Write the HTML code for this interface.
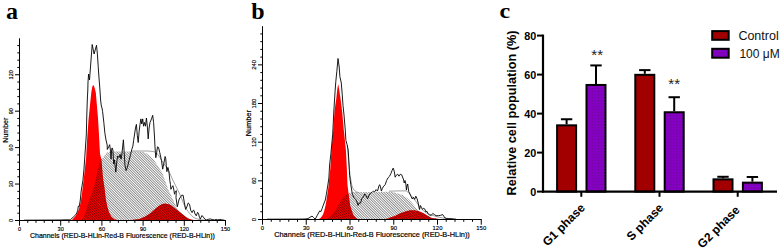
<!DOCTYPE html>
<html><head><meta charset="utf-8"><style>
html,body{margin:0;padding:0;background:#fff;width:784px;height:248px;overflow:hidden}
svg{display:block;font-family:"Liberation Sans",sans-serif}
</style></head><body>
<svg width="784" height="248" viewBox="0 0 784 248">
<defs>
<pattern id="hatch" patternUnits="userSpaceOnUse" width="1.8" height="1.8" patternTransform="rotate(-45)">
<rect x="0" y="0" width="0.9" height="1.8" fill="rgba(0,0,0,0.46)"/>
</pattern>
<pattern id="rhatch" patternUnits="userSpaceOnUse" width="1.8" height="1.8" patternTransform="rotate(-45)">
<rect x="0" y="0" width="0.9" height="1.8" fill="rgba(40,0,0,0.55)"/>
</pattern>
<pattern id="dots" patternUnits="userSpaceOnUse" width="3" height="3">
<rect x="0" y="0" width="3" height="3" fill="#8600c4"/>
<rect x="1" y="1" width="1.3" height="1.3" fill="#6c0a9c"/>
</pattern>
</defs>
<rect width="784" height="248" fill="#fff"/>

<text x="6" y="18.5" font-family="'Liberation Serif', serif" font-weight="bold" font-size="24">a</text>
<text x="251.3" y="18.8" font-family="'Liberation Serif', serif" font-weight="bold" font-size="24">b</text>
<text x="0" y="0" transform="translate(499.6,18.4) scale(1.12,1)" font-family="'Liberation Serif', serif" font-weight="bold" font-size="21.5">c</text>

<clipPath id="clip19"><polygon points="71.7,220.2 73.5,218.2 75.3,216.2 77.3,213.1 78.4,210.6 79.3,208.1 80.3,204.0 81.0,200.0 81.8,195.0 83.0,185.0 84.2,175.0 85.0,168.0 86.1,158.0 87.1,140.0 88.5,120.0 90.3,102.0 91.3,92.6 92.1,87.5 93.1,84.7 94.2,86.5 95.8,92.6 96.6,102.0 98.0,118.0 99.0,135.0 100.0,153.7 101.5,160.0 102.9,177.0 104.7,189.2 105.8,199.3 107.3,206.5 109.1,212.6 111.5,216.8 114.5,219.2 118.1,220.2 121.0,220.2"/></clipPath>
<polygon points="81.5,220.2 83.7,217.1 85.6,211.9 87.5,205.5 90.1,197.7 93.0,190.0 94.9,184.2 97.3,172.0 100.4,160.0 102.0,158.5 103.2,157.3 105.0,154.5 106.5,152.8 109.7,151.6 120.0,151.5 135.0,151.4 143.2,152.1 146.5,153.5 149.2,155.7 151.8,158.0 154.0,160.6 157.7,165.4 159.8,169.0 162.3,172.8 164.7,179.5 167.1,186.2 168.9,191.0 171.5,196.5 173.4,200.5 175.3,204.5 177.5,209.0 180.5,213.5 184.7,219.5 188.0,220.2" fill="url(#hatch)"/>
<polygon points="71.7,220.2 73.5,218.2 75.3,216.2 77.3,213.1 78.4,210.6 79.3,208.1 80.3,204.0 81.0,200.0 81.8,195.0 83.0,185.0 84.2,175.0 85.0,168.0 86.1,158.0 87.1,140.0 88.5,120.0 90.3,102.0 91.3,92.6 92.1,87.5 93.1,84.7 94.2,86.5 95.8,92.6 96.6,102.0 98.0,118.0 99.0,135.0 100.0,153.7 101.5,160.0 102.9,177.0 104.7,189.2 105.8,199.3 107.3,206.5 109.1,212.6 111.5,216.8 114.5,219.2 118.1,220.2 121.0,220.2" fill="#ff0000"/>
<polygon points="81.5,220.2 83.7,217.1 85.6,211.9 87.5,205.5 90.1,197.7 93.0,190.0 94.9,184.2 97.3,172.0 100.4,160.0 102.0,158.5 103.2,157.3 105.0,154.5 106.5,152.8 109.7,151.6 120.0,151.5 135.0,151.4 143.2,152.1 146.5,153.5 149.2,155.7 151.8,158.0 154.0,160.6 157.7,165.4 159.8,169.0 162.3,172.8 164.7,179.5 167.1,186.2 168.9,191.0 171.5,196.5 173.4,200.5 175.3,204.5 177.5,209.0 180.5,213.5 184.7,219.5 188.0,220.2" fill="url(#rhatch)" clip-path="url(#clip19)"/>
<polygon points="130.0,220.2 135.0,219.6 139.4,219.0 145.2,216.5 150.0,213.5 154.0,210.0 158.0,206.5 161.6,204.2 165.0,203.6 168.9,204.2 171.5,205.5 174.0,207.4 176.6,209.4 180.5,212.6 184.4,215.8 188.2,218.4 192.1,219.8 196.0,220.2" fill="#f00000"/>
<polygon points="130.0,220.2 135.0,219.6 139.4,219.0 145.2,216.5 150.0,213.5 154.0,210.0 158.0,206.5 161.6,204.2 165.0,203.6 168.9,204.2 171.5,205.5 174.0,207.4 176.6,209.4 180.5,212.6 184.4,215.8 188.2,218.4 192.1,219.8 196.0,220.2" fill="url(#rhatch)"/>
<polyline points="131.0,151.0 147.0,151.0 150.0,151.2 153.6,151.6 156.0,152.5 157.9,154.3 159.7,157.2 161.5,160.1 163.6,163.4 165.9,166.5 168.3,170.5 170.7,175.2 173.1,180.7 175.6,185.6 178.0,190.4 179.2,193.0 181.8,199.0 183.5,203.5 185.6,207.8 187.9,211.2 189.5,213.3 191.5,215.5 193.4,217.2 196.0,218.6 199.0,219.4 202.1,219.9 206.0,220.2" fill="none" stroke="#777" stroke-width="0.7"/>
<polyline points="24.0,220.2 60.0,220.0 66.0,219.8 70.2,219.9 73.2,217.2 75.8,214.6 76.8,213.0 77.8,210.1 78.3,206.1 79.2,206.8 80.3,200.0 81.2,191.0 82.9,180.5 83.9,170.0 84.6,160.0 85.6,145.0 86.3,135.0 86.8,115.0 87.3,100.0 87.8,90.0 88.0,82.0 88.6,74.0 89.5,80.0 92.2,44.5 94.1,54.0 96.5,45.3 97.4,54.1 98.2,66.2 99.0,78.0 99.8,88.0 100.6,100.0 101.2,105.0 102.2,109.0 102.6,111.5 103.8,122.2 104.9,133.3 106.0,140.0 107.2,145.0 107.3,149.5 108.1,148.0 108.9,146.3 109.7,144.7 110.5,151.1 111.0,159.2 111.6,150.0 112.1,147.9 112.9,150.0 113.7,164.0 114.5,160.0 115.3,167.3 115.8,172.1 116.9,160.8 117.7,156.0 119.0,157.6 120.2,154.4 121.0,159.2 121.8,155.0 123.4,139.8 124.2,152.7 125.0,165.6 126.1,170.5 127.4,167.3 129.0,160.8 130.6,154.4 131.7,149.7 132.9,146.0 133.6,140.7 135.5,128.0 136.4,124.4 137.3,135.3 138.2,142.5 139.1,131.6 140.0,124.4 140.9,118.9 141.8,124.0 142.7,118.9 143.6,126.2 144.5,122.5 145.5,126.2 146.4,118.0 147.3,126.0 148.2,138.9 149.1,128.0 150.0,122.5 151.5,118.9 152.7,115.3 153.6,122.5 154.5,137.0 155.0,147.0 155.4,152.3 155.8,157.7 156.7,152.3 157.5,146.8 158.5,147.4 159.7,152.3 161.5,160.7 162.7,169.2 163.9,163.1 165.1,156.5 165.7,158.3 166.3,165.6 166.9,171.6 167.9,167.4 168.7,170.4 169.3,175.0 169.8,180.5 170.5,184.5 170.9,189.3 172.1,186.9 172.9,185.7 173.9,190.0 174.5,194.2 175.1,192.4 176.3,190.6 176.0,197.7 177.3,206.8 178.2,203.0 179.2,199.0 180.5,197.1 181.8,195.2 183.1,195.2 184.4,202.9 185.6,209.4 186.9,206.8 188.2,202.9 189.5,204.2 190.8,210.6 192.1,212.6 193.3,210.2 194.1,210.6 195.0,213.9 196.3,215.8 197.6,212.3 198.5,213.5 199.5,217.5 200.3,219.1 201.2,217.0 202.0,215.5 203.3,217.1 204.9,219.1 206.5,219.9 208.1,219.4 210.1,218.9 212.1,219.5 214.5,219.9 216.2,219.4 217.8,219.9 219.8,219.4 221.8,219.8 224.5,220.2" fill="none" stroke="#000" stroke-width="0.9" stroke-linejoin="round"/>
<line x1="19.5" y1="38.3" x2="19.5" y2="221.0" stroke="#000" stroke-width="1"/>
<line x1="19.0" y1="220.5" x2="226.0" y2="220.5" stroke="#000" stroke-width="1"/>
<line x1="15.00" y1="220.50" x2="19.5" y2="220.50" stroke="#000" stroke-width="1"/>
<text x="0" y="0" transform="translate(11.30,220.50) rotate(-90)" text-anchor="middle" dominant-baseline="central" font-size="5.6" stroke="#000" stroke-width="0.15">0</text>
<line x1="17.30" y1="213.21" x2="19.5" y2="213.21" stroke="#000" stroke-width="1"/>
<line x1="17.30" y1="205.92" x2="19.5" y2="205.92" stroke="#000" stroke-width="1"/>
<line x1="17.30" y1="198.64" x2="19.5" y2="198.64" stroke="#000" stroke-width="1"/>
<line x1="17.30" y1="191.35" x2="19.5" y2="191.35" stroke="#000" stroke-width="1"/>
<line x1="15.00" y1="184.06" x2="19.5" y2="184.06" stroke="#000" stroke-width="1"/>
<text x="0" y="0" transform="translate(11.30,184.06) rotate(-90)" text-anchor="middle" dominant-baseline="central" font-size="5.6" stroke="#000" stroke-width="0.15">30</text>
<line x1="17.30" y1="176.77" x2="19.5" y2="176.77" stroke="#000" stroke-width="1"/>
<line x1="17.30" y1="169.48" x2="19.5" y2="169.48" stroke="#000" stroke-width="1"/>
<line x1="17.30" y1="162.20" x2="19.5" y2="162.20" stroke="#000" stroke-width="1"/>
<line x1="17.30" y1="154.91" x2="19.5" y2="154.91" stroke="#000" stroke-width="1"/>
<line x1="15.00" y1="147.62" x2="19.5" y2="147.62" stroke="#000" stroke-width="1"/>
<text x="0" y="0" transform="translate(11.30,147.62) rotate(-90)" text-anchor="middle" dominant-baseline="central" font-size="5.6" stroke="#000" stroke-width="0.15">60</text>
<line x1="17.30" y1="140.33" x2="19.5" y2="140.33" stroke="#000" stroke-width="1"/>
<line x1="17.30" y1="133.04" x2="19.5" y2="133.04" stroke="#000" stroke-width="1"/>
<line x1="17.30" y1="125.76" x2="19.5" y2="125.76" stroke="#000" stroke-width="1"/>
<line x1="17.30" y1="118.47" x2="19.5" y2="118.47" stroke="#000" stroke-width="1"/>
<line x1="15.00" y1="111.18" x2="19.5" y2="111.18" stroke="#000" stroke-width="1"/>
<text x="0" y="0" transform="translate(11.30,111.18) rotate(-90)" text-anchor="middle" dominant-baseline="central" font-size="5.6" stroke="#000" stroke-width="0.15">90</text>
<line x1="17.30" y1="103.89" x2="19.5" y2="103.89" stroke="#000" stroke-width="1"/>
<line x1="17.30" y1="96.60" x2="19.5" y2="96.60" stroke="#000" stroke-width="1"/>
<line x1="17.30" y1="89.32" x2="19.5" y2="89.32" stroke="#000" stroke-width="1"/>
<line x1="17.30" y1="82.03" x2="19.5" y2="82.03" stroke="#000" stroke-width="1"/>
<line x1="15.00" y1="74.74" x2="19.5" y2="74.74" stroke="#000" stroke-width="1"/>
<text x="0" y="0" transform="translate(11.30,74.74) rotate(-90)" text-anchor="middle" dominant-baseline="central" font-size="5.6" stroke="#000" stroke-width="0.15">120</text>
<line x1="17.30" y1="67.45" x2="19.5" y2="67.45" stroke="#000" stroke-width="1"/>
<line x1="17.30" y1="60.16" x2="19.5" y2="60.16" stroke="#000" stroke-width="1"/>
<line x1="17.30" y1="52.88" x2="19.5" y2="52.88" stroke="#000" stroke-width="1"/>
<line x1="17.30" y1="45.59" x2="19.5" y2="45.59" stroke="#000" stroke-width="1"/>
<line x1="19.50" y1="220.5" x2="19.50" y2="225.70" stroke="#000" stroke-width="1"/>
<text x="19.50" y="230.7" text-anchor="middle" font-size="5.6" stroke="#000" stroke-width="0.15">0</text>
<line x1="27.74" y1="220.5" x2="27.74" y2="222.80" stroke="#000" stroke-width="1"/>
<line x1="35.98" y1="220.5" x2="35.98" y2="222.80" stroke="#000" stroke-width="1"/>
<line x1="44.22" y1="220.5" x2="44.22" y2="222.80" stroke="#000" stroke-width="1"/>
<line x1="52.46" y1="220.5" x2="52.46" y2="222.80" stroke="#000" stroke-width="1"/>
<line x1="60.70" y1="220.5" x2="60.70" y2="225.70" stroke="#000" stroke-width="1"/>
<text x="60.70" y="230.7" text-anchor="middle" font-size="5.6" stroke="#000" stroke-width="0.15">30</text>
<line x1="68.94" y1="220.5" x2="68.94" y2="222.80" stroke="#000" stroke-width="1"/>
<line x1="77.18" y1="220.5" x2="77.18" y2="222.80" stroke="#000" stroke-width="1"/>
<line x1="85.42" y1="220.5" x2="85.42" y2="222.80" stroke="#000" stroke-width="1"/>
<line x1="93.66" y1="220.5" x2="93.66" y2="222.80" stroke="#000" stroke-width="1"/>
<line x1="101.90" y1="220.5" x2="101.90" y2="225.70" stroke="#000" stroke-width="1"/>
<text x="101.90" y="230.7" text-anchor="middle" font-size="5.6" stroke="#000" stroke-width="0.15">60</text>
<line x1="110.14" y1="220.5" x2="110.14" y2="222.80" stroke="#000" stroke-width="1"/>
<line x1="118.38" y1="220.5" x2="118.38" y2="222.80" stroke="#000" stroke-width="1"/>
<line x1="126.62" y1="220.5" x2="126.62" y2="222.80" stroke="#000" stroke-width="1"/>
<line x1="134.86" y1="220.5" x2="134.86" y2="222.80" stroke="#000" stroke-width="1"/>
<line x1="143.10" y1="220.5" x2="143.10" y2="225.70" stroke="#000" stroke-width="1"/>
<text x="143.10" y="230.7" text-anchor="middle" font-size="5.6" stroke="#000" stroke-width="0.15">90</text>
<line x1="151.34" y1="220.5" x2="151.34" y2="222.80" stroke="#000" stroke-width="1"/>
<line x1="159.58" y1="220.5" x2="159.58" y2="222.80" stroke="#000" stroke-width="1"/>
<line x1="167.82" y1="220.5" x2="167.82" y2="222.80" stroke="#000" stroke-width="1"/>
<line x1="176.06" y1="220.5" x2="176.06" y2="222.80" stroke="#000" stroke-width="1"/>
<line x1="184.30" y1="220.5" x2="184.30" y2="225.70" stroke="#000" stroke-width="1"/>
<text x="184.30" y="230.7" text-anchor="middle" font-size="5.6" stroke="#000" stroke-width="0.15">120</text>
<line x1="192.54" y1="220.5" x2="192.54" y2="222.80" stroke="#000" stroke-width="1"/>
<line x1="200.78" y1="220.5" x2="200.78" y2="222.80" stroke="#000" stroke-width="1"/>
<line x1="209.02" y1="220.5" x2="209.02" y2="222.80" stroke="#000" stroke-width="1"/>
<line x1="217.26" y1="220.5" x2="217.26" y2="222.80" stroke="#000" stroke-width="1"/>
<line x1="225.50" y1="220.5" x2="225.50" y2="225.70" stroke="#000" stroke-width="1"/>
<text x="225.50" y="230.7" text-anchor="middle" font-size="5.6" stroke="#000" stroke-width="0.15">150</text>
<text x="0" y="0" transform="translate(5.1,130.2) rotate(-90)" text-anchor="middle" dominant-baseline="central" font-size="7.0" stroke="#000" stroke-width="0.2">Number</text>
<text x="30.1" y="237.9" font-size="7.56" stroke="#000" stroke-width="0.2" textLength="184.7" lengthAdjust="spacingAndGlyphs">Channels (RED-B-HLin-Red-B Fluorescence (RED-B-HLin))</text>
<clipPath id="clip262"><polygon points="318.6,219.2 320.5,218.0 322.1,216.1 323.2,214.0 324.1,211.3 325.3,206.5 326.1,202.4 326.8,198.0 327.5,193.0 328.3,188.0 329.3,178.0 330.2,170.0 331.5,150.0 333.3,130.0 334.6,110.0 336.3,98.4 337.3,89.0 338.2,83.9 339.1,89.0 340.5,98.4 342.2,112.0 343.8,130.0 345.9,150.0 346.9,170.0 347.5,185.0 348.5,193.1 350.2,205.7 353.4,215.2 356.5,218.6 359.0,219.2"/></clipPath>
<polygon points="326.5,219.2 327.8,218.6 332.3,214.5 336.2,209.4 340.1,202.3 343.3,197.7 346.5,194.5 349.1,193.2 351.5,192.5 355.0,192.1 365.0,192.0 380.0,191.9 386.0,191.8 392.0,192.1 398.0,193.4 403.0,195.3 407.5,198.3 411.0,201.6 413.8,205.0 417.0,209.0 420.0,212.5 423.5,215.5 427.0,217.8 431.0,219.2" fill="url(#hatch)"/>
<polygon points="318.6,219.2 320.5,218.0 322.1,216.1 323.2,214.0 324.1,211.3 325.3,206.5 326.1,202.4 326.8,198.0 327.5,193.0 328.3,188.0 329.3,178.0 330.2,170.0 331.5,150.0 333.3,130.0 334.6,110.0 336.3,98.4 337.3,89.0 338.2,83.9 339.1,89.0 340.5,98.4 342.2,112.0 343.8,130.0 345.9,150.0 346.9,170.0 347.5,185.0 348.5,193.1 350.2,205.7 353.4,215.2 356.5,218.6 359.0,219.2" fill="#ff0000"/>
<polygon points="326.5,219.2 327.8,218.6 332.3,214.5 336.2,209.4 340.1,202.3 343.3,197.7 346.5,194.5 349.1,193.2 351.5,192.5 355.0,192.1 365.0,192.0 380.0,191.9 386.0,191.8 392.0,192.1 398.0,193.4 403.0,195.3 407.5,198.3 411.0,201.6 413.8,205.0 417.0,209.0 420.0,212.5 423.5,215.5 427.0,217.8 431.0,219.2" fill="url(#rhatch)" clip-path="url(#clip262)"/>
<polygon points="384.0,219.2 388.0,218.6 390.0,217.6 394.8,216.0 399.7,213.5 405.3,211.4 410.1,210.2 414.9,210.2 419.8,211.4 424.6,213.8 428.0,216.0 431.8,217.9 436.1,218.6 440.0,219.2" fill="#f00000"/>
<polygon points="384.0,219.2 388.0,218.6 390.0,217.6 394.8,216.0 399.7,213.5 405.3,211.4 410.1,210.2 414.9,210.2 419.8,211.4 424.6,213.8 428.0,216.0 431.8,217.9 436.1,218.6 440.0,219.2" fill="url(#rhatch)"/>
<polyline points="347.3,145.0 347.9,153.0 348.8,163.0 350.0,174.7 351.0,181.0 351.8,185.3 353.0,188.5 354.5,190.5 356.5,191.9 358.0,192.4" fill="none" stroke="#777" stroke-width="0.7"/>
<polyline points="389.0,191.2 398.0,190.9 406.5,190.9 408.9,193.3 411.3,195.7 413.7,198.7 416.1,201.7 418.6,205.3 421.0,208.4 423.4,210.8 427.0,213.2 431.8,215.2 437.2,216.8 442.7,217.9 448.1,218.6 453.0,219.2" fill="none" stroke="#777" stroke-width="0.7"/>
<polyline points="267.0,219.2 300.0,219.1 305.0,219.0 308.0,218.6 310.0,217.3 312.0,216.1 313.6,217.5 315.2,219.2 317.3,215.3 319.7,210.9 320.9,211.7 322.1,208.5 323.3,205.2 324.5,202.0 325.3,200.0 326.3,194.5 327.4,188.0 328.9,178.0 329.6,165.0 330.9,153.5 332.7,134.2 333.9,110.0 335.1,91.1 335.8,81.5 336.8,71.8 338.0,58.5 339.2,67.0 339.9,76.6 341.3,83.0 342.2,94.1 343.0,105.4 344.0,115.0 345.2,129.0 345.9,140.4 347.1,144.6 348.2,150.0 349.0,164.0 349.6,175.4 350.8,184.7 352.4,194.4 354.1,197.8 355.8,199.5 357.0,202.0 358.0,205.4 359.2,202.9 360.1,203.5 360.9,202.0 361.7,198.6 362.6,198.0 363.4,196.7 364.8,193.9 366.2,196.0 367.6,198.8 369.0,195.3 370.5,193.2 371.9,192.5 373.3,191.1 374.7,191.8 376.1,189.6 377.5,191.1 378.9,186.1 379.6,184.7 380.3,186.1 381.4,191.1 382.4,188.2 383.8,186.1 385.2,184.7 386.6,180.5 388.1,177.7 389.5,176.3 390.9,173.5 392.0,170.6 393.2,168.1 394.2,171.1 395.2,177.2 396.3,175.2 397.7,174.2 398.9,176.2 400.3,174.2 401.7,174.8 403.7,180.0 404.2,183.0 405.0,180.5 405.9,184.0 406.4,190.1 407.0,186.0 407.7,184.0 408.7,191.5 409.5,193.0 411.1,196.5 412.3,199.0 413.5,197.3 414.7,199.4 415.8,196.2 416.9,198.3 418.0,202.0 418.9,207.0 419.5,209.5 420.4,205.5 421.5,207.4 422.6,209.4 423.7,208.3 424.8,209.0 425.8,211.9 426.9,211.3 428.0,213.5 429.6,215.2 431.2,215.2 432.9,213.5 434.5,214.6 436.1,215.7 438.3,215.7 440.5,215.3 442.7,214.6 443.8,216.2 444.9,217.9 447.0,218.6 452.0,218.8 456.0,219.2" fill="none" stroke="#000" stroke-width="0.9" stroke-linejoin="round"/>
<line x1="262.5" y1="26.2" x2="262.5" y2="220.0" stroke="#000" stroke-width="1"/>
<line x1="262.0" y1="219.5" x2="481.75" y2="219.5" stroke="#000" stroke-width="1"/>
<line x1="258.00" y1="219.50" x2="262.5" y2="219.50" stroke="#000" stroke-width="1"/>
<text x="0" y="0" transform="translate(253.80,219.50) rotate(-90)" text-anchor="middle" dominant-baseline="central" font-size="5.9" stroke="#000" stroke-width="0.15">0</text>
<line x1="260.30" y1="211.77" x2="262.5" y2="211.77" stroke="#000" stroke-width="1"/>
<line x1="260.30" y1="204.04" x2="262.5" y2="204.04" stroke="#000" stroke-width="1"/>
<line x1="260.30" y1="196.30" x2="262.5" y2="196.30" stroke="#000" stroke-width="1"/>
<line x1="260.30" y1="188.57" x2="262.5" y2="188.57" stroke="#000" stroke-width="1"/>
<line x1="258.00" y1="180.84" x2="262.5" y2="180.84" stroke="#000" stroke-width="1"/>
<text x="0" y="0" transform="translate(253.80,180.84) rotate(-90)" text-anchor="middle" dominant-baseline="central" font-size="5.9" stroke="#000" stroke-width="0.15">60</text>
<line x1="260.30" y1="173.11" x2="262.5" y2="173.11" stroke="#000" stroke-width="1"/>
<line x1="260.30" y1="165.38" x2="262.5" y2="165.38" stroke="#000" stroke-width="1"/>
<line x1="260.30" y1="157.64" x2="262.5" y2="157.64" stroke="#000" stroke-width="1"/>
<line x1="260.30" y1="149.91" x2="262.5" y2="149.91" stroke="#000" stroke-width="1"/>
<line x1="258.00" y1="142.18" x2="262.5" y2="142.18" stroke="#000" stroke-width="1"/>
<text x="0" y="0" transform="translate(253.80,142.18) rotate(-90)" text-anchor="middle" dominant-baseline="central" font-size="5.9" stroke="#000" stroke-width="0.15">120</text>
<line x1="260.30" y1="134.45" x2="262.5" y2="134.45" stroke="#000" stroke-width="1"/>
<line x1="260.30" y1="126.72" x2="262.5" y2="126.72" stroke="#000" stroke-width="1"/>
<line x1="260.30" y1="118.98" x2="262.5" y2="118.98" stroke="#000" stroke-width="1"/>
<line x1="260.30" y1="111.25" x2="262.5" y2="111.25" stroke="#000" stroke-width="1"/>
<line x1="258.00" y1="103.52" x2="262.5" y2="103.52" stroke="#000" stroke-width="1"/>
<text x="0" y="0" transform="translate(253.80,103.52) rotate(-90)" text-anchor="middle" dominant-baseline="central" font-size="5.9" stroke="#000" stroke-width="0.15">180</text>
<line x1="260.30" y1="95.79" x2="262.5" y2="95.79" stroke="#000" stroke-width="1"/>
<line x1="260.30" y1="88.06" x2="262.5" y2="88.06" stroke="#000" stroke-width="1"/>
<line x1="260.30" y1="80.32" x2="262.5" y2="80.32" stroke="#000" stroke-width="1"/>
<line x1="260.30" y1="72.59" x2="262.5" y2="72.59" stroke="#000" stroke-width="1"/>
<line x1="258.00" y1="64.86" x2="262.5" y2="64.86" stroke="#000" stroke-width="1"/>
<text x="0" y="0" transform="translate(253.80,64.86) rotate(-90)" text-anchor="middle" dominant-baseline="central" font-size="5.9" stroke="#000" stroke-width="0.15">240</text>
<line x1="260.30" y1="57.13" x2="262.5" y2="57.13" stroke="#000" stroke-width="1"/>
<line x1="260.30" y1="49.40" x2="262.5" y2="49.40" stroke="#000" stroke-width="1"/>
<line x1="260.30" y1="41.66" x2="262.5" y2="41.66" stroke="#000" stroke-width="1"/>
<line x1="260.30" y1="33.93" x2="262.5" y2="33.93" stroke="#000" stroke-width="1"/>
<line x1="262.50" y1="219.5" x2="262.50" y2="224.70" stroke="#000" stroke-width="1"/>
<text x="262.50" y="230.4" text-anchor="middle" font-size="5.9" stroke="#000" stroke-width="0.15">0</text>
<line x1="271.25" y1="219.5" x2="271.25" y2="221.80" stroke="#000" stroke-width="1"/>
<line x1="280.00" y1="219.5" x2="280.00" y2="221.80" stroke="#000" stroke-width="1"/>
<line x1="288.75" y1="219.5" x2="288.75" y2="221.80" stroke="#000" stroke-width="1"/>
<line x1="297.50" y1="219.5" x2="297.50" y2="221.80" stroke="#000" stroke-width="1"/>
<line x1="306.25" y1="219.5" x2="306.25" y2="224.70" stroke="#000" stroke-width="1"/>
<text x="306.25" y="230.4" text-anchor="middle" font-size="5.9" stroke="#000" stroke-width="0.15">30</text>
<line x1="315.00" y1="219.5" x2="315.00" y2="221.80" stroke="#000" stroke-width="1"/>
<line x1="323.75" y1="219.5" x2="323.75" y2="221.80" stroke="#000" stroke-width="1"/>
<line x1="332.50" y1="219.5" x2="332.50" y2="221.80" stroke="#000" stroke-width="1"/>
<line x1="341.25" y1="219.5" x2="341.25" y2="221.80" stroke="#000" stroke-width="1"/>
<line x1="350.00" y1="219.5" x2="350.00" y2="224.70" stroke="#000" stroke-width="1"/>
<text x="350.00" y="230.4" text-anchor="middle" font-size="5.9" stroke="#000" stroke-width="0.15">60</text>
<line x1="358.75" y1="219.5" x2="358.75" y2="221.80" stroke="#000" stroke-width="1"/>
<line x1="367.50" y1="219.5" x2="367.50" y2="221.80" stroke="#000" stroke-width="1"/>
<line x1="376.25" y1="219.5" x2="376.25" y2="221.80" stroke="#000" stroke-width="1"/>
<line x1="385.00" y1="219.5" x2="385.00" y2="221.80" stroke="#000" stroke-width="1"/>
<line x1="393.75" y1="219.5" x2="393.75" y2="224.70" stroke="#000" stroke-width="1"/>
<text x="393.75" y="230.4" text-anchor="middle" font-size="5.9" stroke="#000" stroke-width="0.15">90</text>
<line x1="402.50" y1="219.5" x2="402.50" y2="221.80" stroke="#000" stroke-width="1"/>
<line x1="411.25" y1="219.5" x2="411.25" y2="221.80" stroke="#000" stroke-width="1"/>
<line x1="420.00" y1="219.5" x2="420.00" y2="221.80" stroke="#000" stroke-width="1"/>
<line x1="428.75" y1="219.5" x2="428.75" y2="221.80" stroke="#000" stroke-width="1"/>
<line x1="437.50" y1="219.5" x2="437.50" y2="224.70" stroke="#000" stroke-width="1"/>
<text x="437.50" y="230.4" text-anchor="middle" font-size="5.9" stroke="#000" stroke-width="0.15">120</text>
<line x1="446.25" y1="219.5" x2="446.25" y2="221.80" stroke="#000" stroke-width="1"/>
<line x1="455.00" y1="219.5" x2="455.00" y2="221.80" stroke="#000" stroke-width="1"/>
<line x1="463.75" y1="219.5" x2="463.75" y2="221.80" stroke="#000" stroke-width="1"/>
<line x1="472.50" y1="219.5" x2="472.50" y2="221.80" stroke="#000" stroke-width="1"/>
<line x1="481.25" y1="219.5" x2="481.25" y2="224.70" stroke="#000" stroke-width="1"/>
<text x="481.25" y="230.4" text-anchor="middle" font-size="5.9" stroke="#000" stroke-width="0.15">150</text>
<text x="0" y="0" transform="translate(248.2,123.2) rotate(-90)" text-anchor="middle" dominant-baseline="central" font-size="7.4" stroke="#000" stroke-width="0.2">Number</text>
<text x="274.2" y="237.3" font-size="7.99" stroke="#000" stroke-width="0.2" textLength="195.6" lengthAdjust="spacingAndGlyphs">Channels (RED-B-HLin-Red-B Fluorescence (RED-B-HLin))</text>
<rect x="557.10" y="125.33" width="19.00" height="66.27" fill="#a20000" stroke="#000" stroke-width="2"/>
<line x1="566.60" y1="124.33" x2="566.60" y2="119.25" stroke="#000" stroke-width="2"/>
<line x1="560.90" y1="119.25" x2="572.30" y2="119.25" stroke="#000" stroke-width="2"/>
<rect x="586.50" y="84.96" width="19.00" height="106.64" fill="url(#dots)" stroke="#000" stroke-width="2"/>
<line x1="596.00" y1="83.96" x2="596.00" y2="65.43" stroke="#000" stroke-width="2"/>
<line x1="590.30" y1="65.43" x2="601.70" y2="65.43" stroke="#000" stroke-width="2"/>
<rect x="635.30" y="74.82" width="19.00" height="116.78" fill="#a20000" stroke="#000" stroke-width="2"/>
<line x1="644.80" y1="73.82" x2="644.80" y2="70.12" stroke="#000" stroke-width="2"/>
<line x1="639.10" y1="70.12" x2="650.50" y2="70.12" stroke="#000" stroke-width="2"/>
<rect x="664.70" y="112.26" width="19.00" height="79.34" fill="url(#dots)" stroke="#000" stroke-width="2"/>
<line x1="674.20" y1="111.26" x2="674.20" y2="97.22" stroke="#000" stroke-width="2"/>
<line x1="668.50" y1="97.22" x2="679.90" y2="97.22" stroke="#000" stroke-width="2"/>
<rect x="713.50" y="179.34" width="19.00" height="12.26" fill="#a20000" stroke="#000" stroke-width="2"/>
<line x1="723.00" y1="178.34" x2="723.00" y2="176.78" stroke="#000" stroke-width="2"/>
<line x1="717.30" y1="176.78" x2="728.70" y2="176.78" stroke="#000" stroke-width="2"/>
<rect x="742.90" y="182.66" width="19.00" height="8.94" fill="url(#dots)" stroke="#000" stroke-width="2"/>
<line x1="752.40" y1="181.66" x2="752.40" y2="176.97" stroke="#000" stroke-width="2"/>
<line x1="746.70" y1="176.97" x2="758.10" y2="176.97" stroke="#000" stroke-width="2"/>
<line x1="543.0" y1="34.60" x2="543.0" y2="192.6" stroke="#000" stroke-width="2.2"/>
<line x1="542.0" y1="191.6" x2="777" y2="191.6" stroke="#000" stroke-width="2.2"/>
<line x1="537.0" y1="191.60" x2="543.0" y2="191.60" stroke="#000" stroke-width="2"/>
<text x="536.3" y="195.50" text-anchor="end" font-size="10.8" font-weight="bold">0</text>
<line x1="537.0" y1="152.60" x2="543.0" y2="152.60" stroke="#000" stroke-width="2"/>
<text x="536.3" y="156.50" text-anchor="end" font-size="10.8" font-weight="bold">20</text>
<line x1="537.0" y1="113.60" x2="543.0" y2="113.60" stroke="#000" stroke-width="2"/>
<text x="536.3" y="117.50" text-anchor="end" font-size="10.8" font-weight="bold">40</text>
<line x1="537.0" y1="74.60" x2="543.0" y2="74.60" stroke="#000" stroke-width="2"/>
<text x="536.3" y="78.50" text-anchor="end" font-size="10.8" font-weight="bold">60</text>
<line x1="537.0" y1="35.60" x2="543.0" y2="35.60" stroke="#000" stroke-width="2"/>
<text x="536.3" y="39.50" text-anchor="end" font-size="10.8" font-weight="bold">80</text>
<line x1="581.3" y1="191.6" x2="581.3" y2="196.79999999999998" stroke="#000" stroke-width="2"/>
<line x1="659.5" y1="191.6" x2="659.5" y2="196.79999999999998" stroke="#000" stroke-width="2"/>
<line x1="737.7" y1="191.6" x2="737.7" y2="196.79999999999998" stroke="#000" stroke-width="2"/>
<text x="0" y="0" transform="translate(585.70,208.60) rotate(-45)" text-anchor="end" font-size="12" font-weight="bold">G1 phase</text>
<text x="0" y="0" transform="translate(664.10,208.60) rotate(-45)" text-anchor="end" font-size="12" font-weight="bold">S phase</text>
<text x="0" y="0" transform="translate(740.50,210.70) rotate(-45)" text-anchor="end" font-size="12" font-weight="bold">G2 phase</text>
<text x="0" y="0" transform="translate(516.3,112.9) rotate(-90)" text-anchor="middle" font-size="12.7" font-weight="bold">Relative cell population (%)</text>
<text x="597.2" y="59.6" text-anchor="middle" font-size="15" fill="#222">**</text>
<text x="674.2" y="89.1" text-anchor="middle" font-size="15" fill="#222">**</text>
<rect x="712.2" y="31.1" width="16.5" height="8.7" fill="#a20000" stroke="#000" stroke-width="2"/>
<rect x="712.2" y="48.8" width="16.5" height="8.9" fill="url(#dots)" stroke="#000" stroke-width="2"/>
<text x="738.4" y="39.8" font-size="12.5" fill="#111">Control</text>
<text x="739.4" y="57.9" font-size="12.0" fill="#111">100 μM</text>
</svg>
</body></html>
